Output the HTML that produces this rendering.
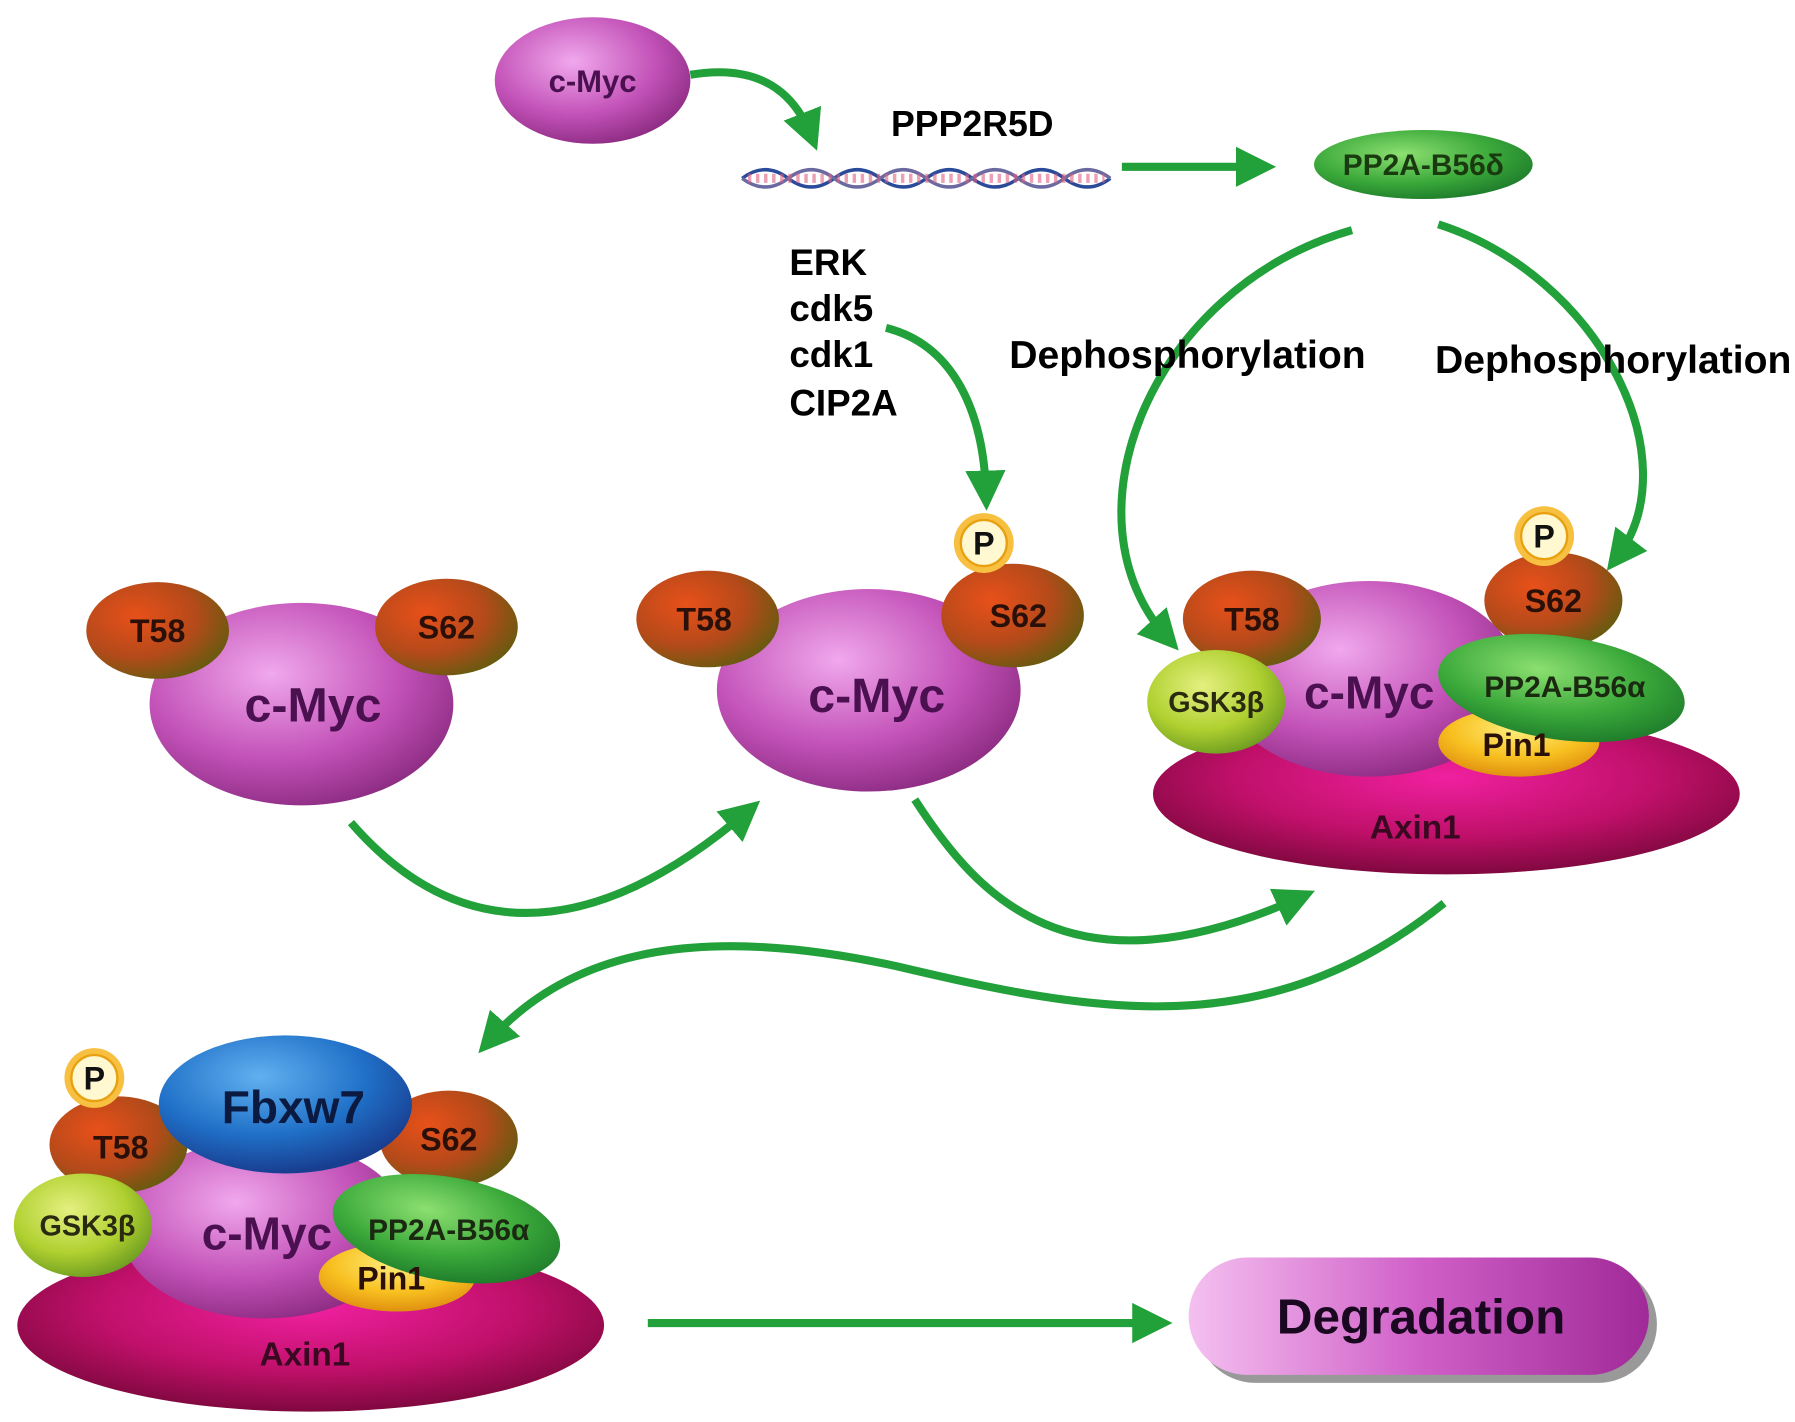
<!DOCTYPE html>
<html><head><meta charset="utf-8"><style>
html,body{margin:0;padding:0;background:#fff}
svg{display:block}
text{font-family:"Liberation Sans",sans-serif;font-weight:bold}
</style></head><body>
<svg width="1795" height="1422" viewBox="0 0 1560 1236" preserveAspectRatio="none" xmlns="http://www.w3.org/2000/svg">
<defs>
<radialGradient id="myc" cx="40%" cy="35%" r="70%"><stop offset="0" stop-color="#f0a8ec"/><stop offset="0.6" stop-color="#c352b8"/><stop offset="1" stop-color="#8a2a80"/></radialGradient>
<radialGradient id="brn" cx="35%" cy="35%" r="70%"><stop offset="0" stop-color="#e8501a"/><stop offset="0.6" stop-color="#b54a1a"/><stop offset="1" stop-color="#6a5a10"/></radialGradient>
<radialGradient id="axin" cx="50%" cy="40%" r="60%"><stop offset="0" stop-color="#f020a0"/><stop offset="0.6" stop-color="#c0106a"/><stop offset="1" stop-color="#80083f"/></radialGradient>
<radialGradient id="grn" cx="40%" cy="35%" r="70%"><stop offset="0" stop-color="#8ce070"/><stop offset="0.6" stop-color="#3aa83a"/><stop offset="1" stop-color="#1d7a2a"/></radialGradient>
<radialGradient id="gsk" cx="40%" cy="35%" r="70%"><stop offset="0" stop-color="#e4f080"/><stop offset="0.6" stop-color="#b0d030"/><stop offset="1" stop-color="#6a9a20"/></radialGradient>
<radialGradient id="pin" cx="50%" cy="30%" r="70%"><stop offset="0" stop-color="#fff080"/><stop offset="0.6" stop-color="#f8c020"/><stop offset="1" stop-color="#e09010"/></radialGradient>
<radialGradient id="blu" cx="40%" cy="30%" r="70%"><stop offset="0" stop-color="#60b0f0"/><stop offset="0.6" stop-color="#2070c8"/><stop offset="1" stop-color="#183e90"/></radialGradient>
<linearGradient id="deg" x1="0" y1="0" x2="1" y2="0"><stop offset="0" stop-color="#f4c0f0"/><stop offset="0.5" stop-color="#d060c8"/><stop offset="1" stop-color="#a02a98"/></linearGradient>
<marker id="ah" viewBox="0 0 10 10" refX="6" refY="5" markerWidth="5" markerHeight="5" orient="auto"><path d="M0,0L10,5L0,10z" fill="#22a03a"/></marker>
<g id="P"><circle r="26" fill="#f8c040"/><circle r="20" fill="#fff8d0" stroke="#e8a010" stroke-width="2"/><text y="10" text-anchor="middle" font-size="28" fill="#111">P</text></g>
</defs>
<g fill="none" stroke="#22a03a" stroke-width="7" marker-end="url(#ah)">
<path d="M600,65 C660,55 690,80 705,118"/>
<path d="M975,145 L1095,145"/>
<path d="M770,285 C830,300 855,360 857,430"/>
<path d="M1175,200 C1000,250 920,450 1015,555"/>
<path d="M1250,195 C1390,240 1470,400 1405,485"/>
<path d="M305,715 C370,790 480,850 650,705"/>
<path d="M795,695 C850,780 930,870 1130,780"/>
<path d="M1255,785 C1100,910 950,880 780,840 C620,805 500,820 425,905"/>
<path d="M563,1150 L1005,1150"/>
</g>
<g stroke-width="3" fill="none">
<path d="M645,155 q20,-15 40,0 t40,0 t40,0 t40,0 t40,0 t40,0 t40,0 t40,0" stroke="#2a4a9a"/>
<path d="M645,155 q20,15 40,0 t40,0 t40,0 t40,0 t40,0 t40,0 t40,0 t40,0" stroke="#6a6aa0"/>
<path d="M650,155 h310" stroke="#e06080" stroke-dasharray="3 4" stroke-width="8" opacity="0.6"/>
</g>
<ellipse cx="515" cy="70" rx="85" ry="55" fill="url(#myc)"/>
<text x="515" y="80" text-anchor="middle" font-size="27" fill="#4a1050" font-weight="normal">c-Myc</text>
<text x="845" y="118" text-anchor="middle" font-size="31">PPP2R5D</text>
<ellipse cx="1237" cy="143" rx="95" ry="30" fill="url(#grn)"/>
<text x="1237" y="152" text-anchor="middle" font-size="26" fill="#1a3a10" font-weight="normal">PP2A-B56δ</text>
<g font-size="32"><text x="686" y="239">ERK</text><text x="686" y="279">cdk5</text><text x="686" y="319">cdk1</text><text x="686" y="361">CIP2A</text></g>
<text x="1032" y="320" text-anchor="middle" font-size="34">Dephosphorylation</text>
<text x="1402" y="324" text-anchor="middle" font-size="34">Dephosphorylation</text>
<ellipse cx="262" cy="612" rx="132" ry="88" fill="url(#myc)"/>
<ellipse cx="137" cy="548" rx="62" ry="42" fill="url(#brn)"/><text x="137" y="558" text-anchor="middle" font-size="28" fill="#2a1008">T58</text>
<ellipse cx="388" cy="545" rx="62" ry="42" fill="url(#brn)"/><text x="388" y="555" text-anchor="middle" font-size="28" fill="#2a1008">S62</text>
<text x="272" y="627" text-anchor="middle" font-size="42" fill="#4a1050">c-Myc</text>
<ellipse cx="755" cy="600" rx="132" ry="88" fill="url(#myc)"/>
<ellipse cx="615" cy="538" rx="62" ry="42" fill="url(#brn)"/><text x="612" y="548" text-anchor="middle" font-size="28" fill="#2a1008">T58</text>
<ellipse cx="880" cy="535" rx="62" ry="45" fill="url(#brn)"/><text x="885" y="545" text-anchor="middle" font-size="28" fill="#2a1008">S62</text>
<use href="#P" x="855" y="472"/>
<text x="762" y="619" text-anchor="middle" font-size="42" fill="#4a1050">c-Myc</text>
<ellipse cx="1257" cy="690" rx="255" ry="70" fill="url(#axin)"/>
<ellipse cx="1190" cy="590" rx="130" ry="85" fill="url(#myc)"/>
<ellipse cx="1088" cy="538" rx="60" ry="42" fill="url(#brn)"/><text x="1088" y="548" text-anchor="middle" font-size="28" fill="#2a1008">T58</text>
<ellipse cx="1350" cy="522" rx="60" ry="42" fill="url(#brn)"/><text x="1350" y="532" text-anchor="middle" font-size="28" fill="#2a1008">S62</text>
<use href="#P" x="1342" y="466"/>
<ellipse cx="1057" cy="610" rx="60" ry="45" fill="url(#gsk)"/><text x="1057" y="619" text-anchor="middle" font-size="25" fill="#2a2a10">GSK3β</text>
<ellipse cx="1320" cy="645" rx="70" ry="30" fill="url(#pin)"/>
<ellipse cx="1357" cy="598" rx="108" ry="45" fill="url(#grn)" transform="rotate(8 1357 598)"/>
<text x="1360" y="606" text-anchor="middle" font-size="26" fill="#1a2a10" font-weight="normal">PP2A-B56α</text>
<text x="1318" y="657" text-anchor="middle" font-size="28" fill="#2a1008">Pin1</text>
<text x="1190" y="616" text-anchor="middle" font-size="40" fill="#4a1050">c-Myc</text>
<text x="1230" y="729" text-anchor="middle" font-size="29" fill="#3a0820">Axin1</text>
<ellipse cx="270" cy="1152" rx="255" ry="75" fill="url(#axin)"/>
<ellipse cx="230" cy="1068" rx="125" ry="78" fill="url(#myc)"/>
<ellipse cx="103" cy="995" rx="60" ry="42" fill="url(#brn)"/><text x="105" y="1007" text-anchor="middle" font-size="28" fill="#2a1008">T58</text>
<use href="#P" x="82" y="937"/>
<ellipse cx="390" cy="990" rx="60" ry="42" fill="url(#brn)"/><text x="390" y="1000" text-anchor="middle" font-size="28" fill="#2a1008">S62</text>
<ellipse cx="248" cy="960" rx="110" ry="60" fill="url(#blu)"/><text x="255" y="976" text-anchor="middle" font-size="40" fill="#0a1a40">Fbxw7</text>
<ellipse cx="72" cy="1065" rx="60" ry="45" fill="url(#gsk)"/><text x="76" y="1074" text-anchor="middle" font-size="25" fill="#2a2a10">GSK3β</text>
<ellipse cx="345" cy="1110" rx="68" ry="30" fill="url(#pin)"/>
<ellipse cx="388" cy="1068" rx="100" ry="45" fill="url(#grn)" transform="rotate(10 388 1068)"/>
<text x="390" y="1078" text-anchor="middle" font-size="26" fill="#1a2a10" font-weight="normal">PP2A-B56α</text>
<text x="340" y="1121" text-anchor="middle" font-size="28" fill="#2a1008">Pin1</text>
<text x="232" y="1086" text-anchor="middle" font-size="40" fill="#4a1050">c-Myc</text>
<text x="265" y="1187" text-anchor="middle" font-size="29" fill="#3a0820">Axin1</text>
<rect x="1040" y="1100" width="400" height="102" rx="51" fill="#555" opacity="0.6"/>
<rect x="1033" y="1093" width="400" height="102" rx="51" fill="url(#deg)"/>
<text x="1235" y="1159" text-anchor="middle" font-size="43" fill="#1a0820">Degradation</text>
</svg>
</body></html>
